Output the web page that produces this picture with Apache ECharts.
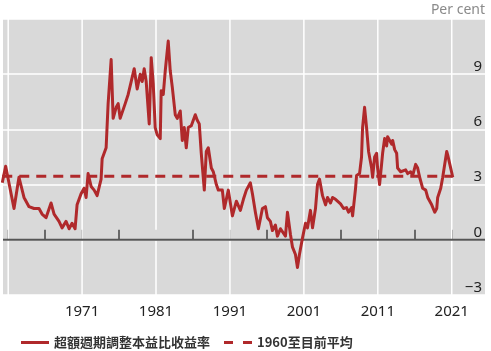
<!DOCTYPE html>
<html>
<head>
<meta charset="utf-8">
<script src="https://cdn.jsdelivr.net/npm/echarts@6/dist/echarts.min.js"></script>
<style>
  html, body { margin: 0; padding: 0; background: #fff; }
  #wrap { position: relative; width: 491px; height: 351px; }
  /* grey plot panel behind the transparent chart canvas */
  #panel { position: absolute; left: 3px; top: 19px; width: 482px; height: 276px; background: #d9d9d9; }
  #chart { position: absolute; left: 0; top: 0; width: 491px; height: 351px; }
</style>
</head>
<body>
<div id="wrap">
  <div id="panel"></div>
  <div id="chart"></div>
</div>
<script>
// decimal years
const years = [
  1960.2, 1960.66, 1961.79, 1962.46, 1963.14, 1963.82, 1964.5, 1965.17, 1965.58, 1966.12,
  1966.8, 1967.21, 1967.88, 1968.29, 1968.83, 1969.24, 1969.64, 1970.05, 1970.32, 1970.86,
  1971.27, 1971.54, 1971.81, 1972.22, 1972.63, 1973.03, 1973.57, 1973.71, 1974.25, 1974.52,
  1974.93, 1975.2, 1975.61, 1975.88, 1976.15, 1976.42, 1976.83, 1977.23, 1977.64, 1978.05,
  1978.45, 1978.86, 1979.13, 1979.4, 1979.67, 1980.08, 1980.35, 1980.62, 1980.89, 1981.16,
  1981.57, 1981.7, 1981.98, 1982.25, 1982.65, 1982.92, 1983.2, 1983.6, 1983.87, 1984.28,
  1984.55, 1984.82, 1985.09, 1985.36, 1985.77, 1986.04, 1986.31, 1986.58, 1986.85, 1987.12,
  1987.53, 1987.8, 1988.07, 1988.48, 1988.75, 1989.16, 1989.43, 1989.97, 1990.24, 1990.78,
  1991.33, 1991.87, 1992.41, 1992.82, 1993.22, 1993.76, 1994.04, 1994.44, 1994.85, 1995.39,
  1995.8, 1996.07, 1996.47, 1996.75, 1997.15, 1997.42, 1997.83, 1998.1, 1998.51, 1998.78,
  1999.18, 1999.46, 1999.86, 2000.13, 2000.4, 2000.81, 2001.22, 2001.49, 2001.89, 2002.17,
  2002.57, 2002.84, 2003.11, 2003.52, 2003.93, 2004.2, 2004.6, 2004.88, 2005.28, 2005.55,
  2005.96, 2006.37, 2006.77, 2007.04, 2007.45, 2007.59, 2007.99, 2008.13, 2008.53, 2008.8,
  2008.94, 2009.21, 2009.48, 2009.75, 2010.16, 2010.3, 2010.57, 2010.84, 2010.97, 2011.24,
  2011.51, 2011.65, 2011.92, 2012.19, 2012.33, 2012.6, 2012.87, 2013.01, 2013.28, 2013.55,
  2013.68, 2014.09, 2014.36, 2014.77, 2015.04, 2015.44, 2015.72, 2016.12, 2016.39, 2016.66,
  2017.07, 2017.48, 2017.75, 2018.29, 2018.7, 2018.97, 2019.1, 2019.51, 2019.78, 2020.05,
  2020.32, 2020.46, 2020.86, 2021.14
]
// excess CAPE yield, per cent
const excessYield = [
  3.1, 4.0, 1.7, 3.4, 2.3, 1.8, 1.7, 1.7, 1.4, 1.2,
  2.0, 1.4, 1.0, 0.65, 1.0, 0.6, 0.9, 0.6, 1.9, 2.5,
  2.8, 2.3, 3.6, 2.9, 2.7, 2.4, 3.3, 4.4, 5.0, 7.4,
  9.8, 6.6, 7.2, 7.4, 6.6, 6.5, 7.4, 7.9, 8.6, 9.3,
  8.2, 9.0, 8.6, 9.3, 8.6, 6.3, 9.9, 8.5, 6.1, 5.7,
  5.5, 8.1, 7.9, 9.2, 10.8, 9.2, 8.3, 6.8, 6.6, 7.0,
  5.4, 6.1, 5.0, 6.1, 6.2, 6.1, 6.8, 6.5, 6.3, 4.7,
  2.7, 4.8, 5.0, 3.9, 3.7, 3.0, 2.7, 2.7, 1.7, 2.7,
  1.3, 2.1, 1.6, 2.2, 2.7, 3.1, 2.5, 1.5, 0.6, 1.7,
  1.8, 1.2, 1.0, 0.5, 0.8, 0.2, 0.6, 0.65, 0.2, 1.5,
  0.3, -0.4, -0.8, -1.5, -0.8, 0.1, 0.9, 0.65, 1.6, 0.65,
  1.7, 3.0, 3.3, 2.4, 1.9, 2.3, 2.0, 2.3, 2.2, 2.3,
  1.95, 1.7, 1.75, 1.5, 1.75, 1.3, 2.8, 3.5, 3.6, 4.5,
  6.1, 7.2, 6.1, 4.8, 3.9, 3.4, 4.5, 4.7, 3.9, 3.0,
  4.1, 4.7, 5.5, 5.1, 5.6, 5.5, 5.2, 5.4, 4.9, 4.7,
  3.9, 3.7, 3.6, 3.8, 3.6, 3.7, 3.5, 4.1, 3.9, 3.4,
  2.8, 2.7, 2.3, 1.9, 1.5, 1.7, 2.3, 2.8, 3.4, 3.5,
  4.8, 4.6, 3.9, 3.4
]
const averageSince1960 = 3.45

const xMin = 1960.3
const xMax = 2025.5
const yMin = -3
const yMax = 12
const tickYears = [1961, 1966, 1971, 1976, 1981, 1986, 1991, 1996, 2001, 2006, 2011, 2016, 2021]
const labelYears = [1971, 1981, 1991, 2001, 2011, 2021]
const gridYears = [1961, 1971, 1981, 1991, 2001, 2011, 2021]

const seriesNames = ['超額週期調整本益比收益率', '1960至目前平均']

const red = '#b0292b'
const font = '"Noto Sans", "Open Sans", sans-serif'
const cjkFont = '"Noto Sans CJK TC", "Noto Sans CJK SC", sans-serif'

const chart = echarts.init(document.getElementById('chart'), null, { renderer: 'canvas' })

// white vertical grid lines, one small series each
const gridSeries = gridYears.map(y => ({
  type: 'line',
  z: 2,
  silent: true,
  symbol: 'none',
  data: [[y, yMin], [y + 0.001, yMax]],
  lineStyle: { color: '#ffffff', width: 1.5 }
}))

chart.setOption({
  animation: false,
  backgroundColor: 'transparent',
  textStyle: { fontFamily: font },
  grid: {
    left: 3,
    right: 6,
    top: 19,
    bottom: 56,
    show: false
  },
  legend: {
    left: 16,
    top: 331,
    itemWidth: 28,
    itemHeight: 3,
    itemGap: 14,
    data: [
      { name: seriesNames[0], icon: 'path://M0,0H28V3H0Z' },
      { name: seriesNames[1], icon: 'path://M0,0H9V3H0Z M19,0H28V3H19Z' }
    ],
    itemStyle: { color: red },
    textStyle: {
      fontFamily: cjkFont,
      fontWeight: 'bold',
      fontSize: 13,
      color: '#333'
    }
  },
  xAxis: {
    type: 'value',
    min: xMin,
    max: xMax,
    axisLine: { show: false },
    splitLine: { show: false },
    axisTick: {
      show: true,
      inside: true,
      length: 10,
      customValues: tickYears,
      lineStyle: { color: '#444', width: 1.5 }
    },
    axisLabel: {
      customValues: labelYears,
      margin: 9,
      fontSize: 15,
      color: '#222',
      formatter: v => String(v)
    }
  },
  yAxis: {
    type: 'value',
    position: 'right',
    min: yMin,
    max: yMax,
    interval: 3,
    name: 'Per cent',
    nameLocation: 'end',
    nameGap: 9,
    nameTextStyle: {
      align: 'right',
      verticalAlign: 'middle',
      fontSize: 14,
      color: '#8a8a8a'
    },
    axisLine: { show: false },
    axisTick: { show: false },
    splitLine: {
      lineStyle: { color: '#fff', width: 1.5 }
    },
    axisLabel: {
      inside: true,
      margin: 3,
      fontSize: 15,
      color: '#222',
      verticalAlign: 'bottom',
      formatter: v => (v === 12 ? '' : String(v).replace('-', '−'))
    }
  },
  series: gridSeries.concat([
    {
      // zero line
      type: 'line',
      z: 2,
      silent: true,
      symbol: 'none',
      data: [[xMin, 0], [xMax, 0]],
      lineStyle: { color: '#555', width: 2 }
    },
    {
      name: seriesNames[1],
      type: 'line',
      z: 3,
      symbol: 'none',
      data: [[years[0], averageSince1960], [years[years.length - 1], averageSince1960]],
      lineStyle: { color: red, width: 3, type: [10, 7] },
      itemStyle: { color: red }
    },
    {
      name: seriesNames[0],
      type: 'line',
      z: 4,
      symbol: 'none',
      data: years.map((y, i) => [y, excessYield[i]]),
      lineStyle: { color: red, width: 3, join: 'round' },
      itemStyle: { color: red }
    }
  ])
})
</script>
</body>
</html>
